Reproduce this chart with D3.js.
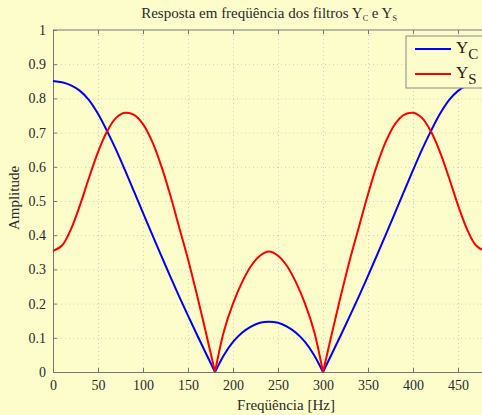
<!DOCTYPE html>
<html>
<head>
<meta charset="utf-8">
<script src="https://cdn.jsdelivr.net/npm/d3@7"></script>
<style>
  body { margin: 0; background: #fdfdcc; }
  svg text { font-family: 'Liberation Serif', 'DejaVu Serif', serif; }
  .axis text { fill: #2a2a2a; font-size: 14px; }
  .axis path, .axis line { stroke: #777; }
  .grid line { stroke: #cfcfcf; stroke-dasharray: 1,3; }
  .grid path { display: none; }
</style>
</head>
<body>
<script>
'use strict'

// frequency samples (Hz)
const freq = [0, 10, 20, 30, 40, 50, 60, 70, 80, 90, 100, 110, 120, 130, 140, 150, 160, 170, 180,
  190, 200, 210, 220, 230, 240, 250, 260, 270, 280, 290, 300,
  310, 320, 330, 340, 350, 360, 370, 380, 390, 400, 410, 420, 430, 440, 450, 460, 470, 480]

// Y_C amplitude
const yC = [0.851, 0.847, 0.838, 0.822, 0.795, 0.755, 0.705, 0.65, 0.59, 0.528, 0.465, 0.403, 0.342, 0.281, 0.222, 0.165, 0.109, 0.054, 0,
  0.05, 0.088, 0.115, 0.133, 0.144, 0.147, 0.144, 0.133, 0.115, 0.088, 0.05, 0,
  0.054, 0.109, 0.165, 0.222, 0.281, 0.342, 0.403, 0.465, 0.528, 0.59, 0.65, 0.705, 0.755, 0.795, 0.822, 0.838, 0.847, 0.851]

// Y_S amplitude
const yS = [0.354, 0.37, 0.418, 0.488, 0.568, 0.643, 0.703, 0.743, 0.758, 0.752, 0.725, 0.675, 0.605, 0.52, 0.425, 0.33, 0.225, 0.114, 0,
  0.12, 0.2, 0.262, 0.31, 0.34, 0.352, 0.34, 0.31, 0.262, 0.2, 0.12, 0,
  0.114, 0.225, 0.33, 0.425, 0.52, 0.605, 0.675, 0.725, 0.752, 0.758, 0.743, 0.703, 0.643, 0.568, 0.488, 0.418, 0.37, 0.354]

const xTicks = [0, 50, 100, 150, 200, 250, 300, 350, 400, 450]
const yTicks = [0, 0.1, 0.2, 0.3, 0.4, 0.5, 0.6, 0.7, 0.8, 0.9, 1]

const W = 482
const H = 415
const m = {left: 53, top: 30, bottom: 43}
const plotRight = 485
const serif = "'Liberation Serif', 'DejaVu Serif', serif"

const svg = d3.select('body').append('svg').attr('width', W).attr('height', H)
svg.append('rect').attr('width', W).attr('height', H).attr('fill', '#fdfdcc')

const x = d3.scaleLinear().domain([0, 480]).range([m.left, plotRight])
const y = d3.scaleLinear().domain([0, 1]).range([H - m.bottom, m.top])

// grid
svg.append('g').attr('class', 'grid')
  .attr('transform', `translate(0,${H - m.bottom})`)
  .call(d3.axisBottom(x).tickValues(xTicks.slice(1)).tickSize(-(H - m.bottom - m.top)).tickFormat(''))
svg.append('g').attr('class', 'grid')
  .attr('transform', `translate(${m.left},0)`)
  .call(d3.axisLeft(y).tickValues(yTicks.slice(1, -1)).tickSize(-(plotRight - m.left)).tickFormat(''))

// box top
svg.append('line').attr('x1', m.left).attr('x2', plotRight)
  .attr('y1', m.top).attr('y2', m.top).attr('stroke', '#777')

// axes (ticks inside)
svg.append('g').attr('class', 'axis')
  .attr('transform', `translate(0,${H - m.bottom})`)
  .call(d3.axisBottom(x).tickValues(xTicks).tickSizeInner(-4).tickSizeOuter(0).tickPadding(8).tickFormat(d3.format('d')))
  .attr('font-family', serif)
svg.append('g').attr('class', 'axis')
  .attr('transform', `translate(${m.left},0)`)
  .call(d3.axisLeft(y).tickValues(yTicks).tickSizeInner(-4).tickSizeOuter(0).tickPadding(7)
    .tickFormat(d => d === 0 || d === 1 ? d3.format('d')(d) : d3.format('.1f')(d)))
  .attr('font-family', serif)
// top ticks
svg.append('g').attr('class', 'axis')
  .attr('transform', `translate(0,${m.top})`)
  .call(d3.axisTop(x).tickValues(xTicks).tickSizeInner(-4).tickSizeOuter(0).tickFormat(''))
  .select('.domain').remove()

// curves, split into lobes at the zeros so the cusps stay sharp
function lobes (vals) {
  let segs = []
  let cur = []
  vals.forEach(function (v, i) {
    cur.push([freq[i], v])
    if (v === 0 && cur.length > 1) {
      segs.push(cur)
      cur = [[freq[i], v]]
    }
  })
  if (cur.length > 1) segs.push(cur)
  return segs
}

const line = d3.line()
  .x(d => x(d[0]))
  .y(d => y(d[1]))
  .curve(d3.curveCatmullRom.alpha(0.5))

const series = [
  {name: 'C', vals: yC, color: '#0000ff'},
  {name: 'S', vals: yS, color: '#ff0000'}
]

series.forEach(function (s) {
  svg.append('g').selectAll('path')
    .data(lobes(s.vals))
    .enter().append('path')
    .attr('d', line)
    .attr('fill', 'none')
    .attr('stroke', s.color)
    .attr('stroke-width', 2)
})

// title
const title = svg.append('text')
  .attr('x', 269).attr('y', 18)
  .attr('text-anchor', 'middle')
  .attr('fill', '#2a2a2a')
  .attr('font-size', 15)
title.append('tspan').text('Resposta em freqüência dos filtros Y')
title.append('tspan').attr('font-size', 8).attr('dy', 3).text('C')
title.append('tspan').attr('dy', -3).text(' e Y')
title.append('tspan').attr('font-size', 8).attr('dy', 3).text('S')

// axis labels
svg.append('text')
  .attr('x', 286).attr('y', 410)
  .attr('text-anchor', 'middle')
  .attr('fill', '#2a2a2a')
  .attr('font-size', 15)
  .text('Freqüência [Hz]')
svg.append('text')
  .attr('transform', 'translate(19,198) rotate(-90)')
  .attr('text-anchor', 'middle')
  .attr('fill', '#2a2a2a')
  .attr('font-size', 15)
  .text('Amplitude')

// legend
const lg = svg.append('g').attr('transform', 'translate(406,36)')
lg.append('rect').attr('width', 80).attr('height', 52)
  .attr('fill', '#fdfdcc').attr('stroke', '#888')
series.forEach(function (s, i) {
  const ly = 13 + i * 25
  lg.append('line').attr('x1', 9).attr('x2', 45)
    .attr('y1', ly).attr('y2', ly)
    .attr('stroke', s.color).attr('stroke-width', 2)
  const t = lg.append('text').attr('x', 50).attr('y', ly + 4)
    .attr('fill', '#222').attr('font-size', 17)
  t.append('tspan').text('Y')
  t.append('tspan').attr('font-size', 15).attr('dy', 6).text(s.name)
})
</script>
</body>
</html>
